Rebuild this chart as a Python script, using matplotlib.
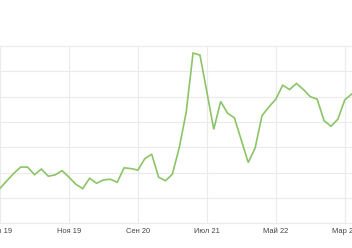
import numpy as np
import matplotlib
matplotlib.use("Agg")
import matplotlib.pyplot as plt

# monthly values starting Jan 2019
values = [13.8, 16.8, 19.7, 22.2, 22.2, 19.2, 21.4, 18.6, 19.1, 20.8,
          18.2, 15.4, 13.7, 17.8, 15.8, 17.1, 17.4, 16.2, 21.9, 21.6,
          21.0, 25.5, 27.3, 18.2, 16.8, 19.4, 29.9, 43.8, 67.2, 66.4,
          51.9, 37.1, 48.1, 43.5, 41.6, 32.8, 24.0, 29.7, 42.5, 45.9,
          49.0, 54.5, 52.8, 55.2, 52.8, 50.0, 49.0, 40.5, 38.3, 41.1,
          48.7, 51.0, 52.5]
tick_months = [0, 10, 20, 30, 40, 50]
tick_labels = ["Янв 19", "Ноя 19", "Сен 20", "Июл 21", "Май 22", "Мар 23"]

fig = plt.figure(figsize=(3.52, 2.48), dpi=100)
ax = fig.add_axes([0, 0.0996, 1, 0.715])

x = np.arange(len(values))
ax.plot(x, values, color="#8cc466", lw=1.2, solid_joinstyle="miter")

ax.set_xlim(0.42, 51.05)
ax.set_ylim(0, 70)
ax.set_yticks(np.arange(0, 71, 10))
ax.set_xticks(tick_months)
ax.set_xticklabels(tick_labels, fontsize=5.4, color="#444444", family="Liberation Sans")
ax.tick_params(axis="x", length=0, pad=3.5)
ax.tick_params(axis="y", length=0, labelleft=False)
ax.grid(True, color="#ebebeb", lw=0.8)
ax.set_axisbelow(True)
for s in ax.spines.values():
    s.set_visible(False)
for line in ax.get_ygridlines() + ax.get_xgridlines():
    line.set_clip_on(False)

fig.savefig("out.png", dpi=100)
